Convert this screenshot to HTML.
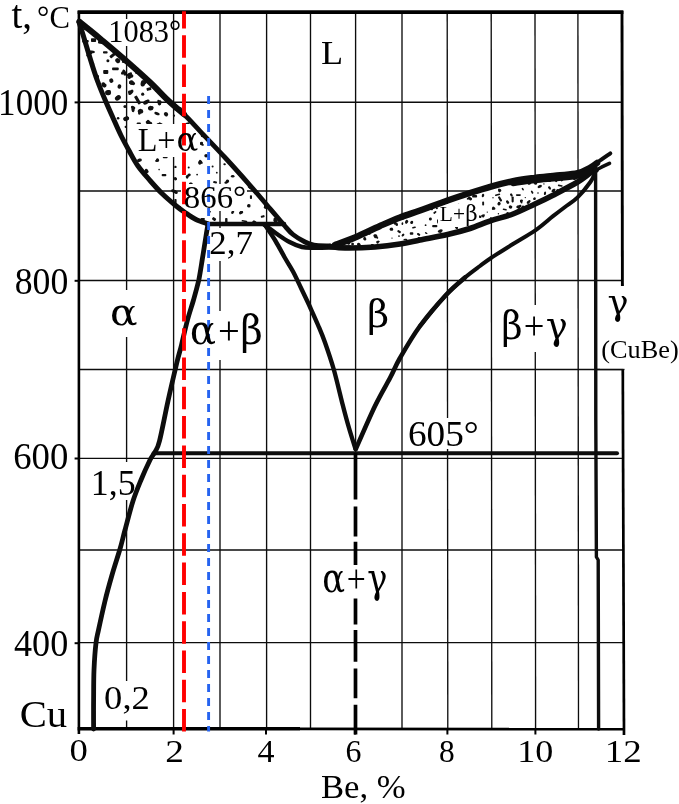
<!DOCTYPE html>
<html><head><meta charset="utf-8"><title>Cu-Be</title>
<style>html,body{margin:0;padding:0;background:#fff}svg{display:block}</style></head>
<body><svg width="679" height="804" viewBox="0 0 679 804">
<rect width="679" height="804" fill="#fff"/>
<g stroke="#0c0c0c" stroke-width="1.35" fill="none"><line x1="126.6" y1="12" x2="126.6" y2="729"/><line x1="173.6" y1="12" x2="173.6" y2="729"/><line x1="220.0" y1="12" x2="220.0" y2="729"/><line x1="266.6" y1="12" x2="266.6" y2="729"/><line x1="310.5" y1="12" x2="310.5" y2="729"/><line x1="355.6" y1="12" x2="355.6" y2="453"/><line x1="402.0" y1="12" x2="402.0" y2="729"/><line x1="447.2" y1="12" x2="447.8" y2="729"/><line x1="491.2" y1="12" x2="491.8" y2="729"/><line x1="535.0" y1="12" x2="535.6" y2="729"/><line x1="577.9" y1="12" x2="578.5" y2="729"/><line x1="79" y1="102.2" x2="623" y2="102.2"/><line x1="79" y1="191.0" x2="623" y2="191.0"/><line x1="79" y1="280.5" x2="623" y2="280.5"/><line x1="79" y1="369.5" x2="623" y2="369.5"/><line x1="79" y1="458.3" x2="623" y2="458.3"/><line x1="79" y1="550.0" x2="623" y2="550.0"/><line x1="79" y1="642.6" x2="623" y2="642.6"/></g>
<g fill="#111"><rect x="91.0" y="38.3" width="5.1" height="3.8" rx="0.8" transform="rotate(0 93.6 40.1)"/><ellipse cx="103.4" cy="84.4" rx="2.2" ry="2.0" transform="rotate(77 103.4 84.4)"/><ellipse cx="104.1" cy="85.4" rx="2.1" ry="1.9" transform="rotate(170 104.1 85.4)"/><ellipse cx="104.8" cy="85.6" rx="1.9" ry="1.7" transform="rotate(106 104.8 85.6)"/><rect x="133.0" y="98.5" width="9.1" height="3.2" rx="0.8" transform="rotate(60 137.6 100.1)"/><rect x="103.2" y="70.1" width="5.1" height="3.8" rx="0.8" transform="rotate(0 105.8 72.0)"/><rect x="112.1" y="67.5" width="6.6" height="2.7" rx="0.8" transform="rotate(0 115.4 68.9)"/><ellipse cx="159.6" cy="102.8" rx="2.7" ry="1.8" transform="rotate(109 159.6 102.8)"/><ellipse cx="159.1" cy="102.4" rx="2.9" ry="1.5" transform="rotate(65 159.1 102.4)"/><circle cx="93.1" cy="64.1" r="1.2"/><ellipse cx="130.9" cy="92.3" rx="3.2" ry="1.7" transform="rotate(132 130.9 92.3)"/><ellipse cx="129.8" cy="92.1" rx="1.9" ry="1.6" transform="rotate(21 129.8 92.1)"/><circle cx="125.7" cy="126.9" r="1.1"/><ellipse cx="85.2" cy="27.4" rx="2.9" ry="1.4" transform="rotate(89 85.2 27.4)"/><rect x="122.0" y="59.9" width="7.5" height="3.5" rx="0.8" transform="rotate(10 125.7 61.7)"/><rect x="103.0" y="51.3" width="4.6" height="2.3" rx="0.8" transform="rotate(0 105.3 52.4)"/><ellipse cx="122.5" cy="72.9" rx="1.8" ry="1.4" transform="rotate(121 122.5 72.9)"/><ellipse cx="124.4" cy="72.6" rx="3.2" ry="1.7" transform="rotate(70 124.4 72.6)"/><ellipse cx="167.6" cy="126.5" rx="3.2" ry="2.0" transform="rotate(27 167.6 126.5)"/><ellipse cx="119.4" cy="86.5" rx="2.3" ry="1.9" transform="rotate(98 119.4 86.5)"/><circle cx="118.1" cy="118.2" r="1.3"/><ellipse cx="159.8" cy="124.7" rx="2.5" ry="1.4" transform="rotate(92 159.8 124.7)"/><ellipse cx="158.4" cy="125.3" rx="2.4" ry="2.0" transform="rotate(90 158.4 125.3)"/><ellipse cx="161.5" cy="126.1" rx="3.1" ry="2.0" transform="rotate(65 161.5 126.1)"/><rect x="133.9" y="69.2" width="6.3" height="3.4" rx="0.8" transform="rotate(90 137.0 70.9)"/><circle cx="142.7" cy="94.2" r="1.6"/><rect x="183.4" y="122.9" width="6.3" height="2.7" rx="0.8" transform="rotate(-15 186.5 124.2)"/><rect x="134.6" y="124.7" width="8.5" height="4.0" rx="0.8" transform="rotate(90 138.8 126.7)"/><ellipse cx="108.1" cy="91.6" rx="2.9" ry="1.6" transform="rotate(171 108.1 91.6)"/><ellipse cx="108.1" cy="92.9" rx="3.0" ry="2.4" transform="rotate(8 108.1 92.9)"/><ellipse cx="130.3" cy="75.7" rx="3.1" ry="1.9" transform="rotate(15 130.3 75.7)"/><ellipse cx="129.4" cy="74.2" rx="2.9" ry="1.4" transform="rotate(156 129.4 74.2)"/><ellipse cx="129.4" cy="76.6" rx="2.3" ry="2.1" transform="rotate(116 129.4 76.6)"/><ellipse cx="118.2" cy="97.6" rx="2.0" ry="2.0" transform="rotate(165 118.2 97.6)"/><ellipse cx="117.9" cy="97.9" rx="3.2" ry="2.4" transform="rotate(145 117.9 97.9)"/><rect x="109.2" y="53.1" width="8.7" height="3.0" rx="0.8" transform="rotate(-40 113.6 54.6)"/><circle cx="107.9" cy="60.8" r="1.5"/><circle cx="156.4" cy="90.5" r="1.4"/><circle cx="125.0" cy="106.5" r="1.6"/><ellipse cx="127.2" cy="118.3" rx="2.0" ry="1.8" transform="rotate(14 127.2 118.3)"/><ellipse cx="126.0" cy="118.7" rx="2.9" ry="2.2" transform="rotate(157 126.0 118.7)"/><ellipse cx="146.1" cy="102.2" rx="3.2" ry="2.0" transform="rotate(150 146.1 102.2)"/><ellipse cx="147.7" cy="101.1" rx="2.0" ry="1.4" transform="rotate(154 147.7 101.1)"/><ellipse cx="166.0" cy="114.2" rx="2.0" ry="2.3" transform="rotate(138 166.0 114.2)"/><rect x="173.1" y="107.3" width="8.6" height="3.0" rx="0.8" transform="rotate(0 177.5 108.8)"/><ellipse cx="144.2" cy="82.5" rx="2.7" ry="2.1" transform="rotate(148 144.2 82.5)"/><ellipse cx="142.9" cy="83.3" rx="3.2" ry="2.3" transform="rotate(99 142.9 83.3)"/><ellipse cx="132.1" cy="83.1" rx="3.1" ry="1.8" transform="rotate(17 132.1 83.1)"/><ellipse cx="131.4" cy="82.5" rx="2.4" ry="2.3" transform="rotate(17 131.4 82.5)"/><ellipse cx="133.1" cy="107.6" rx="2.4" ry="1.6" transform="rotate(32 133.1 107.6)"/><ellipse cx="133.0" cy="109.4" rx="2.9" ry="1.6" transform="rotate(81 133.0 109.4)"/><ellipse cx="118.0" cy="60.8" rx="2.4" ry="2.3" transform="rotate(119 118.0 60.8)"/><ellipse cx="116.8" cy="60.0" rx="1.9" ry="1.5" transform="rotate(127 116.8 60.0)"/><rect x="82.2" y="40.0" width="6.5" height="2.6" rx="0.8" transform="rotate(0 85.5 41.3)"/><ellipse cx="157.0" cy="113.6" rx="2.8" ry="1.5" transform="rotate(18 157.0 113.6)"/><ellipse cx="111.3" cy="80.6" rx="2.1" ry="2.3" transform="rotate(161 111.3 80.6)"/><rect x="98.1" y="40.3" width="6.1" height="3.5" rx="0.8" transform="rotate(10 101.1 42.1)"/><ellipse cx="139.8" cy="111.8" rx="3.1" ry="1.5" transform="rotate(105 139.8 111.8)"/><ellipse cx="140.5" cy="111.3" rx="2.8" ry="2.3" transform="rotate(178 140.5 111.3)"/><ellipse cx="147.8" cy="122.2" rx="1.8" ry="2.1" transform="rotate(65 147.8 122.2)"/><ellipse cx="149.8" cy="124.2" rx="2.7" ry="2.3" transform="rotate(112 149.8 124.2)"/><ellipse cx="148.7" cy="122.4" rx="2.7" ry="1.4" transform="rotate(64 148.7 122.4)"/><circle cx="174.0" cy="115.7" r="1.1"/><ellipse cx="97.3" cy="76.8" rx="1.9" ry="1.8" transform="rotate(74 97.3 76.8)"/><rect x="146.6" y="87.5" width="4.7" height="3.0" rx="0.8" transform="rotate(-15 148.9 89.0)"/><circle cx="177.0" cy="125.7" r="1.6"/><ellipse cx="89.8" cy="53.0" rx="2.6" ry="1.7" transform="rotate(175 89.8 53.0)"/><ellipse cx="91.7" cy="51.9" rx="3.2" ry="1.3" transform="rotate(6 91.7 51.9)"/><ellipse cx="88.8" cy="54.1" rx="3.1" ry="1.5" transform="rotate(135 88.8 54.1)"/><ellipse cx="151.8" cy="108.1" rx="1.7" ry="2.1" transform="rotate(30 151.8 108.1)"/><ellipse cx="150.2" cy="108.2" rx="2.3" ry="2.3" transform="rotate(167 150.2 108.2)"/><rect x="229.2" y="187.0" width="4.0" height="2.3" rx="0.8" transform="rotate(35 231.2 188.2)"/><ellipse cx="157.6" cy="160.0" rx="1.5" ry="1.7" transform="rotate(146 157.6 160.0)"/><ellipse cx="156.9" cy="160.8" rx="1.8" ry="1.1" transform="rotate(177 156.9 160.8)"/><ellipse cx="226.6" cy="182.2" rx="2.4" ry="1.3" transform="rotate(159 226.6 182.2)"/><ellipse cx="227.5" cy="181.1" rx="1.6" ry="1.6" transform="rotate(142 227.5 181.1)"/><ellipse cx="206.1" cy="155.8" rx="1.8" ry="1.8" transform="rotate(90 206.1 155.8)"/><ellipse cx="228.6" cy="197.0" rx="1.9" ry="1.8" transform="rotate(170 228.6 197.0)"/><ellipse cx="228.2" cy="197.2" rx="1.6" ry="1.4" transform="rotate(168 228.2 197.2)"/><ellipse cx="227.8" cy="197.9" rx="2.4" ry="1.7" transform="rotate(3 227.8 197.9)"/><ellipse cx="175.8" cy="178.7" rx="1.3" ry="1.0" transform="rotate(95 175.8 178.7)"/><ellipse cx="175.3" cy="178.8" rx="1.8" ry="1.5" transform="rotate(45 175.3 178.8)"/><ellipse cx="184.9" cy="194.6" rx="1.8" ry="1.2" transform="rotate(145 184.9 194.6)"/><ellipse cx="185.9" cy="194.5" rx="2.4" ry="1.2" transform="rotate(140 185.9 194.5)"/><ellipse cx="185.2" cy="195.6" rx="1.5" ry="1.5" transform="rotate(15 185.2 195.6)"/><circle cx="175.4" cy="166.9" r="1.2"/><ellipse cx="275.0" cy="220.7" rx="1.7" ry="1.3" transform="rotate(34 275.0 220.7)"/><ellipse cx="275.2" cy="219.6" rx="2.1" ry="1.7" transform="rotate(79 275.2 219.6)"/><ellipse cx="275.7" cy="221.4" rx="2.0" ry="1.5" transform="rotate(177 275.7 221.4)"/><ellipse cx="232.4" cy="212.6" rx="1.3" ry="1.3" transform="rotate(176 232.4 212.6)"/><ellipse cx="233.0" cy="211.4" rx="1.5" ry="1.0" transform="rotate(40 233.0 211.4)"/><ellipse cx="202.5" cy="135.4" rx="1.8" ry="1.8" transform="rotate(84 202.5 135.4)"/><ellipse cx="202.4" cy="135.5" rx="1.4" ry="1.3" transform="rotate(122 202.4 135.5)"/><ellipse cx="191.0" cy="184.5" rx="1.4" ry="1.6" transform="rotate(23 191.0 184.5)"/><ellipse cx="190.9" cy="184.4" rx="2.0" ry="1.6" transform="rotate(123 190.9 184.4)"/><ellipse cx="190.1" cy="184.4" rx="2.0" ry="1.3" transform="rotate(98 190.1 184.4)"/><circle cx="188.7" cy="167.4" r="1.0"/><ellipse cx="240.5" cy="212.9" rx="1.5" ry="1.5" transform="rotate(168 240.5 212.9)"/><ellipse cx="241.6" cy="212.0" rx="1.8" ry="1.5" transform="rotate(62 241.6 212.0)"/><circle cx="216.8" cy="172.7" r="0.9"/><ellipse cx="200.5" cy="161.8" rx="1.2" ry="1.0" transform="rotate(4 200.5 161.8)"/><ellipse cx="199.6" cy="162.8" rx="1.9" ry="1.5" transform="rotate(74 199.6 162.8)"/><ellipse cx="200.8" cy="161.9" rx="2.4" ry="1.3" transform="rotate(47 200.8 161.9)"/><rect x="200.6" y="218.0" width="4.3" height="2.1" rx="0.8" transform="rotate(0 202.7 219.1)"/><ellipse cx="202.3" cy="201.3" rx="1.3" ry="1.8" transform="rotate(134 202.3 201.3)"/><ellipse cx="244.4" cy="190.3" rx="2.4" ry="1.6" transform="rotate(6 244.4 190.3)"/><circle cx="180.9" cy="207.2" r="1.1"/><ellipse cx="174.9" cy="191.3" rx="1.3" ry="1.2" transform="rotate(176 174.9 191.3)"/><ellipse cx="173.4" cy="191.1" rx="2.4" ry="1.6" transform="rotate(20 173.4 191.1)"/><ellipse cx="175.8" cy="192.2" rx="2.1" ry="1.6" transform="rotate(21 175.8 192.2)"/><ellipse cx="253.3" cy="222.1" rx="1.7" ry="1.1" transform="rotate(123 253.3 222.1)"/><ellipse cx="254.7" cy="222.3" rx="1.9" ry="1.5" transform="rotate(29 254.7 222.3)"/><rect x="241.6" y="220.3" width="5.7" height="1.7" rx="0.8" transform="rotate(10 244.5 221.1)"/><rect x="161.7" y="174.0" width="4.6" height="2.2" rx="0.8" transform="rotate(0 164.0 175.1)"/><ellipse cx="188.0" cy="175.7" rx="1.5" ry="1.2" transform="rotate(176 188.0 175.7)"/><ellipse cx="189.3" cy="174.9" rx="1.5" ry="1.3" transform="rotate(7 189.3 174.9)"/><ellipse cx="187.1" cy="177.0" rx="1.7" ry="1.3" transform="rotate(69 187.1 177.0)"/><ellipse cx="248.8" cy="205.8" rx="1.8" ry="1.7" transform="rotate(5 248.8 205.8)"/><ellipse cx="219.5" cy="204.5" rx="2.0" ry="1.3" transform="rotate(115 219.5 204.5)"/><ellipse cx="221.0" cy="204.4" rx="1.7" ry="1.3" transform="rotate(173 221.0 204.4)"/><ellipse cx="209.4" cy="211.5" rx="1.9" ry="1.4" transform="rotate(114 209.4 211.5)"/><ellipse cx="209.0" cy="210.0" rx="2.0" ry="1.6" transform="rotate(176 209.0 210.0)"/><rect x="213.2" y="181.3" width="3.8" height="2.0" rx="0.8" transform="rotate(10 215.1 182.3)"/><circle cx="153.8" cy="184.0" r="0.8"/><rect x="206.7" y="186.2" width="6.4" height="2.4" rx="0.8" transform="rotate(35 210.0 187.4)"/><rect x="249.0" y="196.0" width="3.8" height="2.1" rx="0.8" transform="rotate(90 250.9 197.1)"/><ellipse cx="201.1" cy="143.3" rx="2.1" ry="1.4" transform="rotate(162 201.1 143.3)"/><ellipse cx="202.1" cy="144.5" rx="1.8" ry="1.1" transform="rotate(21 202.1 144.5)"/><rect x="260.8" y="215.4" width="3.8" height="2.1" rx="0.8" transform="rotate(-15 262.7 216.5)"/><rect x="162.8" y="156.4" width="4.8" height="1.8" rx="0.8" transform="rotate(0 165.2 157.3)"/><ellipse cx="138.6" cy="160.5" rx="1.3" ry="1.6" transform="rotate(36 138.6 160.5)"/><ellipse cx="139.6" cy="160.2" rx="2.3" ry="1.7" transform="rotate(168 139.6 160.2)"/><ellipse cx="250.7" cy="187.1" rx="1.5" ry="1.3" transform="rotate(33 250.7 187.1)"/><ellipse cx="251.2" cy="187.5" rx="1.4" ry="1.2" transform="rotate(94 251.2 187.5)"/><ellipse cx="249.9" cy="187.2" rx="2.3" ry="1.6" transform="rotate(30 249.9 187.2)"/><ellipse cx="236.3" cy="194.0" rx="1.8" ry="1.5" transform="rotate(175 236.3 194.0)"/><ellipse cx="224.6" cy="164.3" rx="1.3" ry="1.0" transform="rotate(14 224.6 164.3)"/><rect x="223.5" y="219.6" width="5.6" height="2.4" rx="0.8" transform="rotate(90 226.3 220.8)"/><ellipse cx="145.4" cy="172.3" rx="1.9" ry="1.8" transform="rotate(122 145.4 172.3)"/><ellipse cx="146.7" cy="170.9" rx="2.4" ry="1.6" transform="rotate(53 146.7 170.9)"/><ellipse cx="145.1" cy="173.5" rx="1.5" ry="1.1" transform="rotate(77 145.1 173.5)"/><ellipse cx="232.7" cy="176.2" rx="1.8" ry="1.3" transform="rotate(178 232.7 176.2)"/><circle cx="197.1" cy="174.6" r="0.9"/><rect x="172.0" y="201.2" width="6.9" height="2.3" rx="0.8" transform="rotate(90 175.4 202.4)"/><rect x="212.1" y="217.7" width="3.9" height="2.8" rx="0.8" transform="rotate(35 214.1 219.1)"/><ellipse cx="198.9" cy="194.1" rx="2.3" ry="1.3" transform="rotate(49 198.9 194.1)"/><ellipse cx="265.5" cy="206.4" rx="1.3" ry="1.4" transform="rotate(63 265.5 206.4)"/><ellipse cx="265.5" cy="207.3" rx="1.6" ry="1.6" transform="rotate(0 265.5 207.3)"/><ellipse cx="265.1" cy="206.1" rx="1.4" ry="1.1" transform="rotate(69 265.1 206.1)"/><circle cx="221.3" cy="155.2" r="1.0"/><circle cx="212.6" cy="166.4" r="1.0"/><circle cx="159.1" cy="169.6" r="0.8"/></g>
<polygon points="335.0,245.0 355.0,237.5 380.0,226.0 400.0,217.5 420.0,210.5 447.5,200.5 470.0,193.0 491.0,186.6 513.0,181.2 535.0,177.8 557.0,175.5 577.6,173.2 590.4,167.6 590.4,173.0 577.6,182.0 553.0,195.2 535.0,204.0 513.0,214.0 491.0,220.6 470.0,228.5 447.5,234.5 420.0,240.0 400.0,244.0 375.0,247.0 345.0,248.0" fill="#fff"/>
<g fill="#111"><circle cx="525.3" cy="197.6" r="0.7"/><ellipse cx="499.2" cy="190.4" rx="2.0" ry="1.2" transform="rotate(82 499.2 190.4)"/><ellipse cx="500.2" cy="190.3" rx="1.1" ry="1.4" transform="rotate(163 500.2 190.3)"/><ellipse cx="405.4" cy="239.5" rx="2.0" ry="0.8" transform="rotate(174 405.4 239.5)"/><ellipse cx="440.8" cy="230.6" rx="1.9" ry="1.3" transform="rotate(177 440.8 230.6)"/><ellipse cx="439.7" cy="231.6" rx="2.0" ry="1.2" transform="rotate(8 439.7 231.6)"/><ellipse cx="440.0" cy="231.2" rx="1.2" ry="1.3" transform="rotate(123 440.0 231.2)"/><ellipse cx="364.9" cy="239.1" rx="1.5" ry="1.4" transform="rotate(15 364.9 239.1)"/><ellipse cx="364.6" cy="238.3" rx="1.4" ry="1.3" transform="rotate(82 364.6 238.3)"/><ellipse cx="426.2" cy="233.1" rx="1.4" ry="0.8" transform="rotate(26 426.2 233.1)"/><rect x="552.8" y="178.7" width="5.2" height="2.0" rx="0.8" transform="rotate(60 555.4 179.7)"/><rect x="455.5" y="204.1" width="4.3" height="2.4" rx="0.8" transform="rotate(-15 457.7 205.3)"/><circle cx="465.0" cy="216.6" r="1.0"/><rect x="449.7" y="204.1" width="5.7" height="2.5" rx="0.8" transform="rotate(0 452.5 205.4)"/><rect x="469.7" y="191.5" width="5.1" height="1.9" rx="0.8" transform="rotate(-40 472.3 192.4)"/><ellipse cx="535.7" cy="182.6" rx="1.8" ry="0.9" transform="rotate(57 535.7 182.6)"/><ellipse cx="535.7" cy="183.4" rx="1.6" ry="1.3" transform="rotate(179 535.7 183.4)"/><ellipse cx="534.7" cy="183.0" rx="1.6" ry="0.8" transform="rotate(23 534.7 183.0)"/><circle cx="392.0" cy="238.1" r="0.7"/><circle cx="425.6" cy="225.2" r="0.9"/><rect x="481.2" y="202.5" width="3.9" height="1.9" rx="0.8" transform="rotate(90 483.1 203.5)"/><rect x="416.9" y="233.4" width="3.4" height="2.0" rx="0.8" transform="rotate(35 418.6 234.4)"/><ellipse cx="402.3" cy="218.8" rx="1.4" ry="1.2" transform="rotate(177 402.3 218.8)"/><circle cx="490.9" cy="217.8" r="0.8"/><rect x="475.8" y="215.4" width="5.6" height="2.3" rx="0.8" transform="rotate(10 478.6 216.5)"/><rect x="397.3" y="230.5" width="3.6" height="2.2" rx="0.8" transform="rotate(35 399.1 231.6)"/><rect x="472.1" y="195.1" width="5.0" height="2.4" rx="0.8" transform="rotate(0 474.6 196.3)"/><circle cx="446.0" cy="214.0" r="1.0"/><ellipse cx="454.3" cy="218.2" rx="1.9" ry="1.1" transform="rotate(93 454.3 218.2)"/><ellipse cx="453.8" cy="217.1" rx="1.2" ry="0.9" transform="rotate(102 453.8 217.1)"/><rect x="462.6" y="209.4" width="5.4" height="2.1" rx="0.8" transform="rotate(0 465.3 210.4)"/><ellipse cx="392.0" cy="229.1" rx="1.6" ry="1.1" transform="rotate(62 392.0 229.1)"/><ellipse cx="391.0" cy="229.3" rx="1.5" ry="1.4" transform="rotate(35 391.0 229.3)"/><ellipse cx="462.6" cy="196.2" rx="1.3" ry="1.0" transform="rotate(17 462.6 196.2)"/><ellipse cx="462.8" cy="195.9" rx="2.0" ry="1.3" transform="rotate(68 462.8 195.9)"/><ellipse cx="462.4" cy="196.7" rx="1.5" ry="1.3" transform="rotate(157 462.4 196.7)"/><ellipse cx="508.9" cy="214.7" rx="1.2" ry="1.4" transform="rotate(2 508.9 214.7)"/><ellipse cx="507.7" cy="213.4" rx="1.5" ry="1.2" transform="rotate(51 507.7 213.4)"/><circle cx="498.4" cy="213.7" r="0.7"/><ellipse cx="494.3" cy="208.5" rx="1.3" ry="1.1" transform="rotate(77 494.3 208.5)"/><ellipse cx="493.1" cy="208.2" rx="1.8" ry="1.2" transform="rotate(102 493.1 208.2)"/><ellipse cx="453.4" cy="232.7" rx="1.4" ry="0.9" transform="rotate(163 453.4 232.7)"/><ellipse cx="442.4" cy="225.1" rx="1.5" ry="1.3" transform="rotate(10 442.4 225.1)"/><ellipse cx="442.6" cy="225.7" rx="1.2" ry="1.4" transform="rotate(70 442.6 225.7)"/><ellipse cx="458.6" cy="220.5" rx="2.0" ry="0.9" transform="rotate(163 458.6 220.5)"/><ellipse cx="457.6" cy="220.9" rx="1.5" ry="1.4" transform="rotate(59 457.6 220.9)"/><rect x="530.4" y="191.3" width="3.4" height="1.7" rx="0.8" transform="rotate(60 532.1 192.2)"/><rect x="502.7" y="208.8" width="4.1" height="1.5" rx="0.8" transform="rotate(10 504.8 209.6)"/><ellipse cx="465.5" cy="224.7" rx="1.5" ry="1.4" transform="rotate(72 465.5 224.7)"/><ellipse cx="466.5" cy="224.7" rx="1.4" ry="1.5" transform="rotate(100 466.5 224.7)"/><ellipse cx="465.4" cy="223.5" rx="1.4" ry="1.2" transform="rotate(27 465.4 223.5)"/><ellipse cx="553.4" cy="190.4" rx="1.8" ry="1.4" transform="rotate(149 553.4 190.4)"/><ellipse cx="553.2" cy="191.5" rx="1.8" ry="0.8" transform="rotate(1 553.2 191.5)"/><ellipse cx="554.4" cy="190.0" rx="1.0" ry="1.3" transform="rotate(18 554.4 190.0)"/><ellipse cx="403.3" cy="234.7" rx="1.1" ry="1.1" transform="rotate(48 403.3 234.7)"/><ellipse cx="402.7" cy="235.3" rx="1.3" ry="1.0" transform="rotate(131 402.7 235.3)"/><ellipse cx="549.5" cy="188.1" rx="1.8" ry="0.9" transform="rotate(47 549.5 188.1)"/><ellipse cx="549.6" cy="187.8" rx="1.6" ry="1.0" transform="rotate(61 549.6 187.8)"/><circle cx="354.7" cy="238.0" r="1.0"/><ellipse cx="510.1" cy="207.0" rx="1.6" ry="1.3" transform="rotate(77 510.1 207.0)"/><ellipse cx="510.8" cy="207.0" rx="1.5" ry="1.5" transform="rotate(29 510.8 207.0)"/><ellipse cx="392.0" cy="221.5" rx="2.0" ry="1.3" transform="rotate(111 392.0 221.5)"/><ellipse cx="352.6" cy="244.1" rx="1.4" ry="1.3" transform="rotate(178 352.6 244.1)"/><rect x="497.3" y="197.8" width="5.5" height="2.2" rx="0.8" transform="rotate(60 500.0 198.9)"/><ellipse cx="523.7" cy="180.3" rx="1.7" ry="1.1" transform="rotate(160 523.7 180.3)"/><ellipse cx="523.6" cy="181.0" rx="1.9" ry="1.2" transform="rotate(3 523.6 181.0)"/><ellipse cx="524.0" cy="179.9" rx="1.5" ry="1.0" transform="rotate(109 524.0 179.9)"/><circle cx="434.2" cy="236.3" r="0.7"/><ellipse cx="471.1" cy="218.3" rx="1.7" ry="1.0" transform="rotate(86 471.1 218.3)"/><ellipse cx="471.6" cy="217.2" rx="1.8" ry="1.2" transform="rotate(92 471.6 217.2)"/><ellipse cx="470.4" cy="218.1" rx="1.8" ry="1.0" transform="rotate(179 470.4 218.1)"/><rect x="445.6" y="203.4" width="3.5" height="2.4" rx="0.8" transform="rotate(35 447.4 204.6)"/><ellipse cx="469.2" cy="206.1" rx="1.9" ry="0.8" transform="rotate(113 469.2 206.1)"/><ellipse cx="470.0" cy="206.2" rx="1.7" ry="1.1" transform="rotate(63 470.0 206.2)"/><ellipse cx="573.8" cy="178.7" rx="2.0" ry="0.9" transform="rotate(31 573.8 178.7)"/><ellipse cx="574.7" cy="178.6" rx="1.5" ry="1.1" transform="rotate(147 574.7 178.6)"/><ellipse cx="527.9" cy="202.6" rx="1.2" ry="1.2" transform="rotate(20 527.9 202.6)"/><ellipse cx="528.9" cy="201.8" rx="2.1" ry="1.3" transform="rotate(129 528.9 201.8)"/><ellipse cx="406.8" cy="221.4" rx="1.5" ry="1.5" transform="rotate(128 406.8 221.4)"/><ellipse cx="406.3" cy="222.4" rx="1.2" ry="1.4" transform="rotate(26 406.3 222.4)"/><ellipse cx="477.3" cy="225.4" rx="1.2" ry="0.9" transform="rotate(137 477.3 225.4)"/><ellipse cx="476.3" cy="225.7" rx="1.1" ry="1.0" transform="rotate(25 476.3 225.7)"/><ellipse cx="507.6" cy="202.1" rx="1.9" ry="1.3" transform="rotate(52 507.6 202.1)"/><ellipse cx="430.4" cy="219.0" rx="1.5" ry="1.5" transform="rotate(171 430.4 219.0)"/><rect x="427.0" y="207.9" width="6.0" height="1.9" rx="0.8" transform="rotate(10 430.0 208.8)"/><rect x="556.1" y="190.0" width="5.3" height="2.5" rx="0.8" transform="rotate(35 558.8 191.2)"/><ellipse cx="482.3" cy="189.9" rx="1.3" ry="1.1" transform="rotate(167 482.3 189.9)"/><ellipse cx="483.5" cy="189.4" rx="1.6" ry="1.1" transform="rotate(124 483.5 189.4)"/><ellipse cx="459.3" cy="209.6" rx="1.1" ry="1.1" transform="rotate(172 459.3 209.6)"/><ellipse cx="458.7" cy="209.4" rx="2.1" ry="1.3" transform="rotate(11 458.7 209.4)"/><ellipse cx="458.8" cy="208.8" rx="1.4" ry="1.3" transform="rotate(96 458.8 208.8)"/><circle cx="543.9" cy="183.9" r="0.7"/><ellipse cx="540.0" cy="186.3" rx="1.6" ry="1.3" transform="rotate(176 540.0 186.3)"/><ellipse cx="538.8" cy="186.9" rx="1.2" ry="1.2" transform="rotate(24 538.8 186.9)"/><ellipse cx="540.5" cy="186.0" rx="1.4" ry="1.0" transform="rotate(133 540.5 186.0)"/><rect x="433.2" y="211.5" width="3.4" height="1.8" rx="0.8" transform="rotate(-40 434.9 212.4)"/><ellipse cx="442.4" cy="208.2" rx="1.6" ry="1.1" transform="rotate(22 442.4 208.2)"/><ellipse cx="443.3" cy="208.3" rx="1.8" ry="0.8" transform="rotate(174 443.3 208.3)"/><ellipse cx="442.0" cy="208.1" rx="1.9" ry="1.1" transform="rotate(138 442.0 208.1)"/><ellipse cx="483.0" cy="195.5" rx="1.8" ry="1.2" transform="rotate(104 483.0 195.5)"/><ellipse cx="338.4" cy="244.6" rx="1.8" ry="1.3" transform="rotate(42 338.4 244.6)"/><rect x="512.4" y="180.5" width="3.7" height="2.0" rx="0.8" transform="rotate(0 514.2 181.6)"/><ellipse cx="488.2" cy="188.6" rx="1.4" ry="1.4" transform="rotate(73 488.2 188.6)"/><ellipse cx="487.8" cy="187.6" rx="1.2" ry="1.4" transform="rotate(53 487.8 187.6)"/><rect x="449.4" y="198.4" width="3.4" height="1.9" rx="0.8" transform="rotate(-15 451.1 199.4)"/><rect x="557.8" y="184.9" width="4.9" height="1.6" rx="0.8" transform="rotate(10 560.3 185.7)"/><circle cx="487.3" cy="212.1" r="0.7"/><rect x="411.2" y="239.2" width="4.0" height="2.2" rx="0.8" transform="rotate(-15 413.2 240.3)"/><rect x="412.1" y="226.7" width="3.8" height="1.6" rx="0.8" transform="rotate(-15 414.0 227.5)"/><circle cx="493.0" cy="197.8" r="0.7"/><ellipse cx="549.1" cy="180.5" rx="1.3" ry="0.8" transform="rotate(38 549.1 180.5)"/><ellipse cx="548.9" cy="180.5" rx="2.1" ry="1.1" transform="rotate(25 548.9 180.5)"/><ellipse cx="376.2" cy="228.1" rx="2.0" ry="1.1" transform="rotate(12 376.2 228.1)"/><ellipse cx="375.6" cy="227.9" rx="1.9" ry="1.3" transform="rotate(168 375.6 227.9)"/><ellipse cx="523.6" cy="207.2" rx="1.7" ry="1.2" transform="rotate(39 523.6 207.2)"/><ellipse cx="522.7" cy="207.9" rx="1.7" ry="1.1" transform="rotate(33 522.7 207.9)"/><ellipse cx="523.5" cy="207.1" rx="1.9" ry="1.3" transform="rotate(36 523.5 207.1)"/><ellipse cx="378.7" cy="241.4" rx="1.1" ry="0.8" transform="rotate(21 378.7 241.4)"/><ellipse cx="377.5" cy="242.2" rx="1.5" ry="1.3" transform="rotate(62 377.5 242.2)"/><ellipse cx="395.9" cy="223.6" rx="1.8" ry="0.8" transform="rotate(149 395.9 223.6)"/><ellipse cx="394.9" cy="223.0" rx="1.5" ry="1.1" transform="rotate(156 394.9 223.0)"/><ellipse cx="396.7" cy="224.6" rx="1.3" ry="1.4" transform="rotate(25 396.7 224.6)"/><ellipse cx="456.8" cy="227.8" rx="1.3" ry="1.2" transform="rotate(18 456.8 227.8)"/><ellipse cx="456.2" cy="226.7" rx="1.5" ry="1.4" transform="rotate(84 456.2 226.7)"/><ellipse cx="427.9" cy="238.4" rx="1.6" ry="1.0" transform="rotate(100 427.9 238.4)"/><ellipse cx="428.4" cy="239.4" rx="1.3" ry="1.0" transform="rotate(63 428.4 239.4)"/><ellipse cx="427.8" cy="238.6" rx="1.6" ry="1.0" transform="rotate(54 427.8 238.6)"/><rect x="521.3" y="188.4" width="2.9" height="1.6" rx="0.8" transform="rotate(60 522.8 189.2)"/><circle cx="474.1" cy="222.3" r="0.8"/><circle cx="384.0" cy="224.7" r="0.8"/><rect x="509.8" y="193.9" width="3.2" height="2.1" rx="0.8" transform="rotate(60 511.4 194.9)"/><circle cx="538.0" cy="193.0" r="0.8"/><ellipse cx="451.4" cy="210.8" rx="2.0" ry="1.2" transform="rotate(3 451.4 210.8)"/><ellipse cx="452.1" cy="210.2" rx="1.5" ry="1.2" transform="rotate(4 452.1 210.2)"/><ellipse cx="452.3" cy="211.0" rx="1.8" ry="0.9" transform="rotate(24 452.3 211.0)"/><rect x="409.8" y="232.3" width="3.5" height="2.5" rx="0.8" transform="rotate(0 411.6 233.5)"/><ellipse cx="541.0" cy="201.0" rx="1.7" ry="1.5" transform="rotate(96 541.0 201.0)"/><ellipse cx="540.7" cy="202.0" rx="1.4" ry="1.1" transform="rotate(51 540.7 202.0)"/><ellipse cx="540.4" cy="202.1" rx="1.8" ry="1.2" transform="rotate(45 540.4 202.1)"/><ellipse cx="402.4" cy="223.6" rx="1.4" ry="0.9" transform="rotate(99 402.4 223.6)"/><rect x="370.9" y="244.1" width="2.9" height="2.4" rx="0.8" transform="rotate(0 372.4 245.3)"/><rect x="462.3" y="228.2" width="4.3" height="1.5" rx="0.8" transform="rotate(-40 464.5 229.0)"/><ellipse cx="509.7" cy="183.5" rx="2.0" ry="1.3" transform="rotate(67 509.7 183.5)"/><ellipse cx="534.5" cy="198.7" rx="1.3" ry="1.4" transform="rotate(70 534.5 198.7)"/><rect x="564.5" y="173.8" width="5.7" height="1.9" rx="0.8" transform="rotate(-40 567.3 174.8)"/><ellipse cx="368.8" cy="232.6" rx="1.3" ry="1.4" transform="rotate(54 368.8 232.6)"/><ellipse cx="369.6" cy="233.8" rx="1.0" ry="0.9" transform="rotate(173 369.6 233.8)"/><ellipse cx="469.5" cy="198.0" rx="1.6" ry="1.3" transform="rotate(53 469.5 198.0)"/><ellipse cx="468.5" cy="198.6" rx="1.8" ry="1.0" transform="rotate(171 468.5 198.6)"/><ellipse cx="470.6" cy="198.9" rx="1.5" ry="1.5" transform="rotate(97 470.6 198.9)"/><circle cx="436.9" cy="208.3" r="1.0"/><ellipse cx="358.4" cy="244.0" rx="1.5" ry="1.2" transform="rotate(150 358.4 244.0)"/><ellipse cx="359.5" cy="245.2" rx="2.1" ry="1.4" transform="rotate(66 359.5 245.2)"/><rect x="495.0" y="194.0" width="5.3" height="1.6" rx="0.8" transform="rotate(-15 497.6 194.9)"/><ellipse cx="483.0" cy="215.5" rx="2.1" ry="1.0" transform="rotate(157 483.0 215.5)"/><ellipse cx="483.3" cy="216.4" rx="1.1" ry="1.2" transform="rotate(58 483.3 216.4)"/><rect x="509.6" y="198.4" width="5.9" height="2.1" rx="0.8" transform="rotate(90 512.6 199.5)"/><circle cx="476.6" cy="209.7" r="0.8"/><ellipse cx="545.0" cy="193.3" rx="1.8" ry="1.1" transform="rotate(99 545.0 193.3)"/><ellipse cx="472.7" cy="213.3" rx="1.1" ry="1.2" transform="rotate(176 472.7 213.3)"/><ellipse cx="472.7" cy="213.7" rx="1.6" ry="0.8" transform="rotate(117 472.7 213.7)"/><rect x="515.9" y="194.3" width="5.0" height="1.6" rx="0.8" transform="rotate(0 518.4 195.1)"/><ellipse cx="521.6" cy="200.8" rx="1.1" ry="1.5" transform="rotate(52 521.6 200.8)"/><ellipse cx="521.1" cy="201.1" rx="1.1" ry="1.5" transform="rotate(159 521.1 201.1)"/><ellipse cx="521.3" cy="201.8" rx="1.8" ry="0.9" transform="rotate(65 521.3 201.8)"/><rect x="558.4" y="177.8" width="5.2" height="2.2" rx="0.8" transform="rotate(60 561.0 178.9)"/><ellipse cx="411.8" cy="222.1" rx="1.4" ry="1.3" transform="rotate(135 411.8 222.1)"/><ellipse cx="411.9" cy="222.4" rx="1.3" ry="1.0" transform="rotate(26 411.9 222.4)"/><ellipse cx="411.4" cy="222.9" rx="1.2" ry="1.0" transform="rotate(74 411.4 222.9)"/><rect x="432.2" y="224.9" width="5.1" height="2.4" rx="0.8" transform="rotate(0 434.7 226.0)"/><circle cx="399.0" cy="236.1" r="0.9"/><ellipse cx="499.0" cy="203.6" rx="1.8" ry="1.3" transform="rotate(112 499.0 203.6)"/><ellipse cx="499.1" cy="203.8" rx="1.5" ry="1.5" transform="rotate(119 499.1 203.8)"/><ellipse cx="440.3" cy="213.7" rx="2.1" ry="1.0" transform="rotate(146 440.3 213.7)"/><ellipse cx="439.4" cy="213.5" rx="1.6" ry="1.0" transform="rotate(76 439.4 213.5)"/><ellipse cx="438.6" cy="222.2" rx="1.6" ry="0.9" transform="rotate(138 438.6 222.2)"/><ellipse cx="437.8" cy="221.0" rx="1.8" ry="0.8" transform="rotate(90 437.8 221.0)"/><ellipse cx="439.8" cy="221.3" rx="1.1" ry="0.9" transform="rotate(145 439.8 221.3)"/><rect x="416.5" y="238.3" width="4.6" height="2.2" rx="0.8" transform="rotate(90 418.9 239.4)"/><ellipse cx="577.9" cy="174.9" rx="1.4" ry="1.0" transform="rotate(0 577.9 174.9)"/><ellipse cx="577.0" cy="173.9" rx="1.3" ry="1.0" transform="rotate(70 577.0 173.9)"/><ellipse cx="577.6" cy="175.7" rx="1.6" ry="1.0" transform="rotate(160 577.6 175.7)"/><ellipse cx="347.6" cy="242.9" rx="1.6" ry="1.0" transform="rotate(167 347.6 242.9)"/><ellipse cx="348.5" cy="243.3" rx="1.8" ry="1.4" transform="rotate(10 348.5 243.3)"/><ellipse cx="519.0" cy="207.3" rx="1.7" ry="1.1" transform="rotate(116 519.0 207.3)"/><ellipse cx="520.2" cy="206.0" rx="1.3" ry="1.3" transform="rotate(21 520.2 206.0)"/><ellipse cx="518.0" cy="206.8" rx="1.8" ry="1.4" transform="rotate(154 518.0 206.8)"/><ellipse cx="375.6" cy="236.3" rx="2.0" ry="1.5" transform="rotate(118 375.6 236.3)"/><ellipse cx="376.7" cy="237.1" rx="2.0" ry="1.1" transform="rotate(51 376.7 237.1)"/><ellipse cx="374.7" cy="235.7" rx="1.4" ry="1.3" transform="rotate(34 374.7 235.7)"/><ellipse cx="497.5" cy="185.2" rx="1.6" ry="1.3" transform="rotate(93 497.5 185.2)"/><ellipse cx="497.1" cy="184.9" rx="1.2" ry="1.0" transform="rotate(118 497.1 184.9)"/><ellipse cx="529.5" cy="183.2" rx="2.0" ry="1.4" transform="rotate(150 529.5 183.2)"/><circle cx="544.8" cy="177.7" r="0.8"/></g>
<rect x="109.0" y="19.0" width="61.0" height="27.0" fill="#fff"/>
<rect x="136.0" y="124.0" width="64.0" height="33.0" fill="#fff"/>
<rect x="181.0" y="184.0" width="66.0" height="27.0" fill="#fff"/>
<rect x="210.0" y="228.0" width="44.0" height="33.0" fill="#fff"/>
<rect x="108.0" y="290.0" width="32.0" height="47.0" fill="#fff"/>
<rect x="189.0" y="311.0" width="74.0" height="49.0" fill="#fff"/>
<rect x="366.0" y="294.0" width="25.0" height="44.0" fill="#fff"/>
<rect x="500.0" y="305.0" width="69.0" height="47.0" fill="#fff"/>
<rect x="600.0" y="286.0" width="79.0" height="82.6" fill="#fff"/>
<rect x="92.0" y="462.0" width="45.0" height="38.0" fill="#fff"/>
<rect x="321.0" y="563.0" width="67.0" height="41.0" fill="#fff"/>
<rect x="103.0" y="681.0" width="47.0" height="39.5" fill="#fff"/>
<rect x="438.0" y="204.0" width="41.0" height="23.0" fill="#fff"/>
<rect x="407.0" y="418.0" width="73.0" height="31.0" fill="#fff"/>
<g stroke="#000" fill="none"><line x1="77.6" y1="12.1" x2="623.4" y2="12.1" stroke-width="3.7"/><line x1="78.9" y1="11" x2="78.9" y2="734" stroke-width="2.6"/><line x1="622" y1="11" x2="622.4" y2="286" stroke-width="2.9"/><line x1="622.8" y1="369.5" x2="624" y2="735" stroke-width="2.7"/><path d="M77.6 728.8 L300 728.8" stroke-width="3.6"/><path d="M300 728.9 L625 729.2" stroke-width="2.8"/></g>
<g stroke="#0c0c0c" stroke-width="1.4"><line x1="596" y1="369.5" x2="624.5" y2="369.5"/></g>
<g stroke="#000" stroke-width="2"><line x1="74.6" y1="102.4" x2="79" y2="102.4"/><line x1="74.6" y1="280.8" x2="79" y2="280.8"/><line x1="74.6" y1="458.5" x2="79" y2="458.5"/><line x1="74.6" y1="643.2" x2="79" y2="643.2"/><line x1="173.6" y1="729" x2="173.6" y2="734.5"/><line x1="266.0" y1="729" x2="266.0" y2="734.5"/><line x1="355.0" y1="729" x2="355.0" y2="734.5"/><line x1="447.4" y1="729" x2="447.4" y2="734.5"/><line x1="535.4" y1="729" x2="535.4" y2="734.5"/></g>
<g stroke="#0d0d0d" fill="none" stroke-linecap="round" stroke-linejoin="round"><path d="M79.3 21.7 C82.8 24.5 92.4 32.1 100.0 38.5 C107.6 44.9 116.7 52.5 125.0 59.8 C133.3 67.1 142.7 75.4 150.0 82.3 C157.3 89.2 163.3 96.0 169.0 101.3 C174.7 106.6 181.5 112.1 184.0 114.3" stroke-width="6.0" /><path d="M169.0 101.3 C171.5 103.5 178.8 109.3 184.0 114.3 C189.2 119.3 193.2 123.9 200.0 131.1 C206.8 138.3 216.7 148.5 225.0 157.5 C233.3 166.5 242.5 176.8 250.0 185.3 C257.5 193.8 264.3 202.0 270.0 208.6 C275.7 215.2 280.2 220.7 284.0 225.0 C287.8 229.3 289.5 231.7 293.0 234.5 C296.5 237.3 301.5 240.2 305.0 242.0 C308.5 243.8 309.8 244.3 314.0 245.0 C318.2 245.7 327.3 245.8 330.0 246.0" stroke-width="4.8" /><path d="M79.3 23.0 C80.1 25.5 82.2 32.2 84.0 38.0 C85.8 43.8 87.8 50.8 90.0 58.0 C92.2 65.2 94.8 73.7 97.5 81.0 C100.2 88.3 103.3 95.7 106.0 102.0 C108.7 108.3 111.0 113.4 113.5 119.0 C116.0 124.6 118.3 130.1 121.0 135.5 C123.7 140.9 126.7 146.4 129.5 151.5 C132.3 156.6 134.6 161.2 138.0 166.0 C141.4 170.8 146.0 175.9 150.0 180.5 C154.0 185.1 157.8 189.4 162.0 193.5 C166.2 197.6 171.2 201.8 175.0 205.0 C178.8 208.2 181.5 210.1 185.0 212.5 C188.5 214.9 192.2 217.6 196.0 219.5 C199.8 221.4 206.0 223.2 208.0 224.0" stroke-width="5.0" /><path d="M207 224 L284 224" stroke-width="4.6"/><path d="M208.0 224.0 C207.7 226.0 206.9 230.3 206.0 236.0 C205.1 241.7 203.7 250.7 202.5 258.0 C201.3 265.3 200.2 273.0 198.8 280.0 C197.2 287.0 195.4 293.3 193.5 300.0 C191.6 306.7 189.5 312.5 187.5 320.0 C185.5 327.5 183.2 338.0 181.5 345.0 C179.8 352.0 179.2 352.7 177.0 362.0 C174.8 371.3 170.9 387.8 168.0 401.0 C165.1 414.2 161.7 432.5 159.5 441.0 C157.3 449.5 156.6 448.8 155.0 452.0 C153.4 455.2 152.3 455.3 150.0 460.0 C147.7 464.7 143.8 473.2 141.0 480.0 C138.2 486.8 135.7 492.7 133.0 501.0 C130.3 509.3 127.2 522.0 125.0 530.0 C122.8 538.0 122.2 541.5 120.0 549.0 C117.8 556.5 114.5 566.3 112.0 575.0 C109.5 583.7 107.2 591.8 105.0 601.0 C102.8 610.2 100.0 623.0 98.5 630.0 C97.0 637.0 96.8 636.3 96.0 643.0 C95.2 649.7 94.4 660.5 94.0 670.0 C93.6 679.5 93.7 690.2 93.6 700.0 C93.5 709.8 93.6 724.2 93.6 729.0" stroke-width="4.8" /><path d="M264.0 224.5 C266.2 226.1 272.8 231.1 277.0 234.0 C281.2 236.9 285.3 239.8 289.5 242.0 C293.7 244.2 297.9 246.0 302.0 247.0 C306.1 248.0 308.5 247.7 314.0 247.8 C319.5 247.9 329.0 247.6 335.0 247.5 C341.0 247.4 347.5 247.5 350.0 247.5" stroke-width="4.4" /><path d="M265.0 225.0 C266.8 227.7 272.2 235.5 275.5 241.0 C278.8 246.5 282.1 252.9 285.0 258.0 C287.9 263.1 290.3 266.5 293.0 271.5 C295.7 276.5 298.2 282.1 301.0 288.0 C303.8 293.9 307.2 300.8 310.0 307.0 C312.8 313.2 315.5 319.1 318.0 325.0 C320.5 330.9 322.4 335.1 325.0 342.5 C327.6 349.9 330.8 359.2 333.8 369.5 C336.7 379.8 340.0 394.2 342.5 404.0 C345.0 413.8 346.8 420.5 349.0 428.0 C351.2 435.5 354.4 445.5 355.5 449.0" stroke-width="4.4" /><path d="M355.8 449.0 C359.0 441.8 369.3 417.8 375.0 406.0 C380.7 394.2 385.8 386.0 390.0 378.0 C394.2 370.0 395.0 366.7 400.0 358.0 C405.0 349.3 412.3 336.5 420.0 326.0 C427.7 315.5 438.5 303.1 446.0 295.0 C453.5 286.9 461.8 280.4 465.0 277.5" stroke-width="4.6" /><path d="M420.0 326.0 C424.3 320.8 438.5 303.1 446.0 295.0 C453.5 286.9 459.3 282.3 465.0 277.5 C470.7 272.7 475.7 269.2 480.0 266.0 C484.3 262.8 485.5 261.7 491.0 258.0 C496.5 254.3 505.7 248.6 513.0 244.0 C520.3 239.4 528.3 235.2 535.0 230.6 C541.7 226.0 548.0 220.1 553.0 216.2 C558.0 212.3 560.9 210.1 565.0 207.0 C569.1 203.9 573.4 201.6 577.6 197.4 C581.8 193.2 587.5 186.1 590.4 182.0 C593.3 177.9 594.2 174.5 595.0 173.0" stroke-width="4.0" /><path d="M153.5 453.3 L617 453.3" stroke-width="4"/><path d="M335.0 245.0 C338.3 243.8 347.5 240.7 355.0 237.5 C362.5 234.3 372.5 229.3 380.0 226.0 C387.5 222.7 393.3 220.1 400.0 217.5 C406.7 214.9 412.1 213.3 420.0 210.5 C427.9 207.7 439.2 203.4 447.5 200.5 C455.8 197.6 462.8 195.3 470.0 193.0 C477.2 190.7 483.8 188.6 491.0 186.6 C498.2 184.6 505.7 182.7 513.0 181.2 C520.3 179.7 527.7 178.8 535.0 177.8 C542.3 176.9 549.9 176.3 557.0 175.5 C564.1 174.7 572.0 174.5 577.6 173.2 C583.2 171.9 587.2 169.3 590.4 167.6 C593.6 165.9 595.9 163.8 597.0 163.0" stroke-width="6.4" /><path d="M590.4 167.6 C592.0 166.4 596.7 162.9 600.0 160.5 C603.3 158.1 608.6 154.5 610.3 153.3" stroke-width="4.0" /><path d="M330.0 246.5 C332.5 246.8 337.5 247.9 345.0 248.0 C352.5 248.1 365.8 247.7 375.0 247.0 C384.2 246.3 392.5 245.2 400.0 244.0 C407.5 242.8 412.1 241.6 420.0 240.0 C427.9 238.4 439.2 236.4 447.5 234.5 C455.8 232.6 462.8 230.8 470.0 228.5 C477.2 226.2 483.8 223.0 491.0 220.6 C498.2 218.2 505.7 216.8 513.0 214.0 C520.3 211.2 528.3 207.1 535.0 204.0 C541.7 200.9 545.9 198.9 553.0 195.2 C560.1 191.5 571.4 185.7 577.6 182.0 C583.8 178.3 587.3 175.0 590.4 173.0 C593.5 171.0 595.1 170.5 596.0 170.0" stroke-width="5.6" /><path d="M590.4 173.0 C592.0 172.2 596.8 169.6 600.0 168.0 C603.2 166.4 607.9 164.2 609.5 163.4" stroke-width="3.6" /><path d="M513.0 183.5 C516.7 183.0 527.7 181.3 535.0 180.5 C542.3 179.7 549.9 179.2 557.0 178.5 C564.1 177.8 572.1 177.3 577.6 176.0 C583.1 174.7 587.9 171.4 590.0 170.5" stroke-width="5.5" /><path d="M595.6 168 L595.8 420 L596.4 557 L598.2 560 L598.6 729" stroke-width="3.4"/></g>
<path d="M355.5 453 V499.5 M355.5 506.5 V536.5 M355.5 541.8 V566 M355.5 598.4 V624.5 M355.5 630 V661.8 M355.5 668.4 V698.2 M355.5 704.7 V734.6" stroke="#000" stroke-width="3.7" fill="none"/>
<rect x="321.0" y="565.0" width="67.0" height="33.0" fill="#fff"/>
<path d="M184 731.6 V11.2" stroke="#ff0000" stroke-width="3.9" stroke-dasharray="22.5 6.8" fill="none"/>
<path d="M208.6 96 V731.6" stroke="#2563f0" stroke-width="2.9" stroke-dasharray="8 6" fill="none"/>
<g font-family="'Liberation Serif', 'DejaVu Serif', serif" style="white-space:pre">
<text transform="translate(11.51 28.10) scale(0.3892 0.4035)" font-size="100" fill="#000">t,</text>
<text transform="translate(37.12 28.30) scale(0.3072 0.3203)" font-size="100" fill="#000">°C</text>
<text transform="translate(-1.88 114.80) scale(0.3505 0.3699)" font-size="100" fill="#000">1000</text>
<text transform="translate(14.65 294.10) scale(0.3573 0.3714)" font-size="100" fill="#000">800</text>
<text transform="translate(13.13 468.80) scale(0.3677 0.3805)" font-size="100" fill="#000">600</text>
<text transform="translate(14.06 655.50) scale(0.3614 0.3714)" font-size="100" fill="#000">400</text>
<text transform="translate(108.32 42.30) scale(0.3035 0.3083)" font-size="100" fill="#000">1083°</text>
<text transform="translate(320.89 63.80) scale(0.3623 0.3450)" font-size="100" fill="#000">L</text>
<text transform="translate(137.63 151.20) scale(0.3225 0.3323)" font-size="100" fill="#000">L+<tspan font-family="'DejaVu Math TeX Gyre', 'DejaVu Serif', serif">α</tspan></text>
<text transform="translate(183.85 207.80) scale(0.3280 0.3083)" font-size="100" fill="#000">866°</text>
<text transform="translate(209.31 254.30) scale(0.3485 0.3439)" font-size="100" fill="#000">2,7</text>
<text transform="translate(108.73 324.83) scale(0.4083 0.3741)" font-size="100" fill="#000"><tspan font-family="'DejaVu Math TeX Gyre', 'DejaVu Serif', serif">α</tspan></text>
<text transform="translate(188.71 343.96) scale(0.3866 0.4021)" font-size="100" fill="#000"><tspan font-family="'DejaVu Math TeX Gyre', 'DejaVu Serif', serif">α</tspan>+<tspan font-family="'DejaVu Math TeX Gyre', 'DejaVu Serif', serif">β</tspan></text>
<text transform="translate(366.46 326.60) scale(0.3804 0.3763)" font-size="100" fill="#000"><tspan font-family="'DejaVu Math TeX Gyre', 'DejaVu Serif', serif">β</tspan></text>
<text transform="translate(500.82 339.11) scale(0.3662 0.3995)" font-size="100" fill="#000"><tspan font-family="'DejaVu Math TeX Gyre', 'DejaVu Serif', serif">β</tspan>+<tspan font-family="'DejaVu Math TeX Gyre', 'DejaVu Serif', serif">γ</tspan></text>
<text transform="translate(606.09 314.88) scale(0.3510 0.3583)" font-size="100" fill="#000"><tspan font-family="'DejaVu Math TeX Gyre', 'DejaVu Serif', serif">γ</tspan></text>
<text transform="translate(601.25 358.20) scale(0.2633 0.2519)" font-size="100" fill="#000">(CuBe)</text>
<text transform="translate(407.91 445.70) scale(0.3725 0.3639)" font-size="100" fill="#000">605°</text>
<text transform="translate(90.85 494.80) scale(0.3584 0.3621)" font-size="100" fill="#000">1,5</text>
<text transform="translate(321.20 592.49) scale(0.3377 0.4054)" font-size="100" fill="#000"><tspan font-family="'DejaVu Math TeX Gyre', 'DejaVu Serif', serif">α</tspan>+<tspan font-family="'DejaVu Math TeX Gyre', 'DejaVu Serif', serif">γ</tspan></text>
<text transform="translate(104.12 708.70) scale(0.3655 0.3338)" font-size="100" fill="#000">0,2</text>
<text transform="translate(19.67 727.10) scale(0.4072 0.3833)" font-size="100" fill="#000">Cu</text>
<text transform="translate(439.86 221.20) scale(0.2136 0.2200)" font-size="100" fill="#000">L+<tspan font-family="'DejaVu Math TeX Gyre', 'DejaVu Serif', serif">β</tspan></text>
<text transform="translate(69.51 761.20) scale(0.3674 0.3233)" font-size="100" fill="#000">0</text>
<text transform="translate(165.21 762.40) scale(0.3728 0.3136)" font-size="100" fill="#000">2</text>
<text transform="translate(257.49 762.40) scale(0.3404 0.3136)" font-size="100" fill="#000">4</text>
<text transform="translate(345.52 762.20) scale(0.3195 0.3106)" font-size="100" fill="#000">6</text>
<text transform="translate(438.90 762.20) scale(0.3140 0.3158)" font-size="100" fill="#000">8</text>
<text transform="translate(517.23 762.20) scale(0.3614 0.3158)" font-size="100" fill="#000">10</text>
<text transform="translate(604.66 762.40) scale(0.3698 0.3182)" font-size="100" fill="#000">12</text>
<text transform="translate(320.93 797.50) scale(0.3468 0.3278)" font-size="100" fill="#000">Be, %</text>
</g>
</svg></body></html>
